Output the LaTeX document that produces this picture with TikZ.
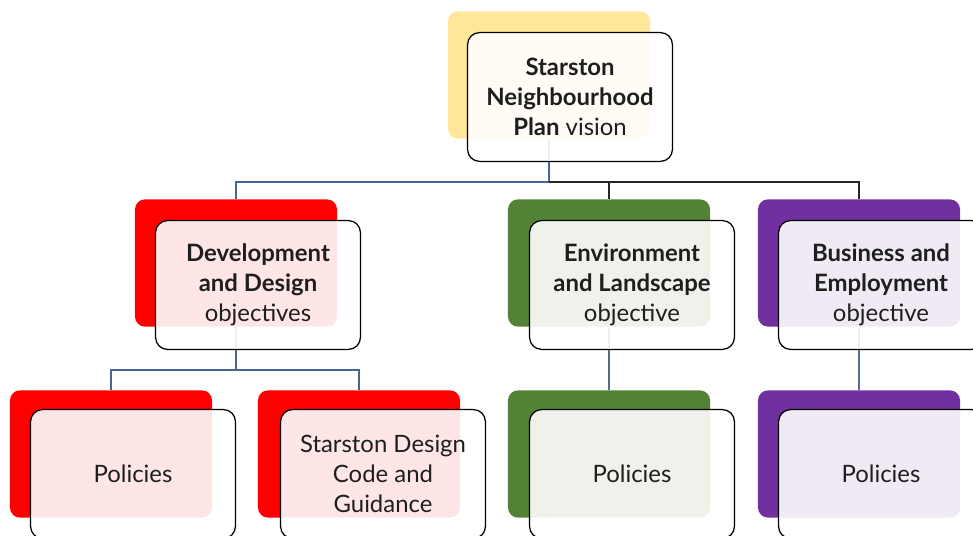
\documentclass[tikz,border=0pt]{standalone}
\usepackage{fontspec}
\setmainfont{Lato}
\usepackage{tikz}
\usetikzlibrary{shapes}
\definecolor{visionyellow}{HTML}{FFE699}
\definecolor{devred}{HTML}{FF0000}
\definecolor{envgreen}{HTML}{548235}
\definecolor{buspurple}{HTML}{7030A0}
\definecolor{linkblue}{HTML}{4A6491}
\definecolor{linkdark}{HTML}{262626}
\definecolor{textdark}{HTML}{1E1E1E}
\tikzstyle{backbox} = [rectangle, rounded corners=0.25cm, minimum width=5.05cm, minimum height=3.18cm, inner sep=0pt]
\tikzstyle{frontbox} = [rectangle, rounded corners=0.3cm, minimum width=5.12cm, minimum height=3.22cm, draw=black, line width=0.9pt, fill=white, fill opacity=0.9, text opacity=1, text=textdark, align=center, font=\fontsize{17}{21.3}\selectfont]
\tikzstyle{link} = [line width=0.9pt]
\begin{document}
\begin{tikzpicture}[x=0.025cm, y=-0.025cm]
\useasboundingbox (0,0) rectangle (973,536);
\node(visionbg) [backbox, fill=visionyellow] at (549,75) {};
\node(devbg) [backbox, fill=devred] at (236,263) {};
\node(envbg) [backbox, fill=envgreen] at (609,263) {};
\node(busbg) [backbox, fill=buspurple] at (859,263) {};
\node(devpolbg) [backbox, fill=devred] at (111,454) {};
\node(codebg) [backbox, fill=devred] at (359,454) {};
\node(envpolbg) [backbox, fill=envgreen] at (609,454) {};
\node(buspolbg) [backbox, fill=buspurple] at (859,454) {};
\draw[link, linkblue] (visionbg.south) -- ++(0,43) -| (devbg.north);
\draw[link, linkdark] (visionbg.south) ++(0,43) -| (envbg.north);
\draw[link, linkdark] (visionbg.south) ++(0,43) -| (busbg.north);
\draw[link, linkblue] (devbg.south) -- ++(0,43) -| (devpolbg.north);
\draw[link, linkblue] (devbg.south) ++(0,43) -| (codebg.north);
\draw[link, linkblue!70!gray] (envbg.south) -- (envpolbg.north);
\draw[link, linkblue!70!gray] (busbg.south) -- (buspolbg.north);
\node(vision) [frontbox] at (570,97) {\textbf{Starston}\\\textbf{Neighbourhood}\\\textbf{Plan} vision};
\node(dev) [frontbox] at (258,285) {\textbf{Development}\\\textbf{and Design}\\objectives};
\node(env) [frontbox] at (632,285) {\textbf{Environment}\\\textbf{and Landscape}\\objective};
\node(bus) [frontbox] at (881,285) {\textbf{Business and}\\\textbf{Employment}\\objective};
\node(devpol) [frontbox] at (133,474) {Policies};
\node(code) [frontbox] at (383,474) {Starston Design\\Code and\\Guidance};
\node(envpol) [frontbox] at (632,474) {Policies};
\node(buspol) [frontbox] at (881,474) {Policies};
\end{tikzpicture}
\end{document}
